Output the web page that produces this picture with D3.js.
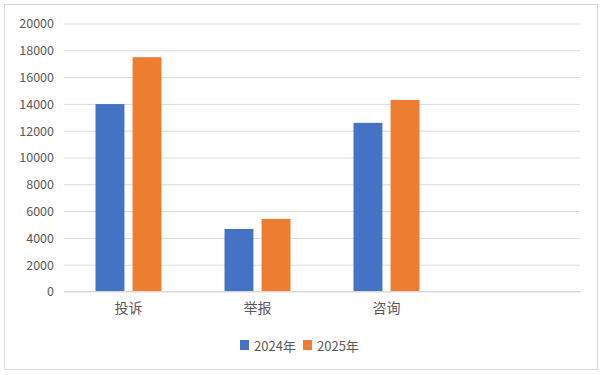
<!DOCTYPE html>
<html>
<head>
<meta charset="utf-8">
<script src="https://cdn.jsdelivr.net/npm/d3@7"></script>
<style>
  body { margin: 0; background: #fff; }
  text { font-family: "Noto Sans CJK SC", "Noto Sans", sans-serif; fill: #595959; }
</style>
</head>
<body>
<div id="chart"></div>
<script>
// data
const categories = ["投诉", "举报", "咨询", ""];
const series = ["2024年", "2025年"];
const values2024 = [13950, 4630, 12550];
const values2025 = [17450, 5380, 14260];
const yTicks = [0, 2000, 4000, 6000, 8000, 10000, 12000, 14000, 16000, 18000, 20000];
const colors = ["#4472c4", "#ed7d31"];

let width = 604;
let height = 375;

let svg = d3
  .select("#chart")
  .append("svg")
  .attr("width", width)
  .attr("height", height);

// chart frame
svg
  .append("rect")
  .attr("x", 4.5)
  .attr("y", 4.5)
  .attr("width", 593)
  .attr("height", 365)
  .attr("fill", "#fff")
  .attr("stroke", "#d9d9d9");

let x0 = d3.scaleBand().domain(categories).range([64, 580]);
let x1 = d3
  .scaleBand()
  .domain(series)
  .range([0, x0.bandwidth()])
  .paddingInner(0.22)
  .paddingOuter(0.85);
let y = d3.scaleLinear().domain([0, 20000]).range([291, 23]);

// grid lines + y labels
let yAxis = d3
  .axisLeft(y)
  .tickValues(yTicks)
  .tickSize(-(580 - 64))
  .tickPadding(10)
  .tickFormat(d3.format("d"));

let gy = svg.append("g").attr("transform", "translate(64,0.5)").call(yAxis);
gy.select(".domain").remove();
gy.selectAll("line").attr("stroke", "#d9d9d9");
gy.selectAll("text")
  .attr("font-size", 12.5)
  .attr("dy", "0.35em")
  .attr("fill", "#595959");

// bars
let rows = categories.slice(0, 3).map((c, i) => ({
  cat: c,
  vals: [values2024[i], values2025[i]],
}));

let groups = svg
  .selectAll(".cat")
  .data(rows)
  .join("g")
  .attr("class", "cat")
  .attr("transform", (d) => `translate(${x0(d.cat)},0)`);

groups
  .selectAll("rect")
  .data((d) => d.vals.map((v, i) => ({ s: series[i], v: v, i: i })))
  .join("rect")
  .attr("x", (d) => x1(d.s))
  .attr("y", (d) => y(d.v))
  .attr("width", x1.bandwidth())
  .attr("height", (d) => y(0) - y(d.v))
  .attr("fill", (d) => colors[d.i]);

// category labels
let xAxis = d3.axisBottom(x0).tickSize(0).tickPadding(12);
let gx = svg.append("g").attr("transform", "translate(0,291)").call(xAxis);
gx.select(".domain").attr("stroke", "#d9d9d9");
gx.selectAll("text").attr("font-size", 14).attr("fill", "#595959");

// legend
let legend = svg
  .selectAll(".legend")
  .data(series)
  .join("g")
  .attr("class", "legend")
  .attr("transform", (d, i) => `translate(${240 + i * 63},340)`);

legend
  .append("rect")
  .attr("width", 9)
  .attr("height", 10)
  .attr("fill", (d, i) => colors[i]);

legend
  .append("text")
  .attr("x", 14)
  .attr("y", 10.5)
  .attr("font-size", 13)
  .text((d) => d);
</script>
</body>
</html>
